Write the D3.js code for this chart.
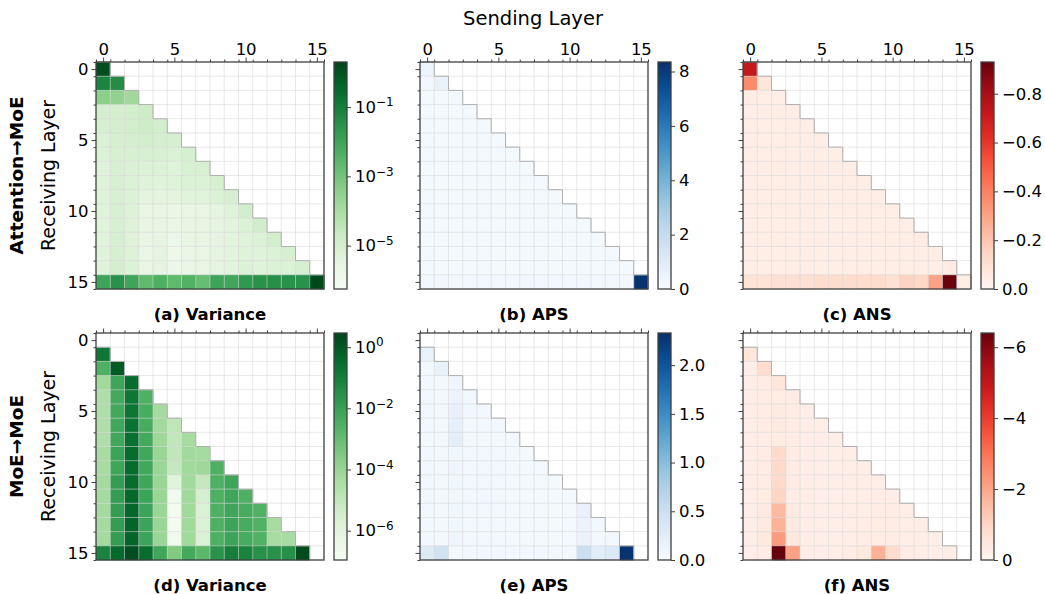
<!DOCTYPE html>
<html>
<head>
<meta charset="utf-8">
<script src="https://cdn.jsdelivr.net/npm/d3@7"></script>
<style>
  body { margin: 0; background: #fff; }
  text { font-family: "DejaVu Sans", sans-serif; fill: #000; }
</style>
</head>
<body>
<svg id="chart" width="1045" height="594"></svg>
<script>
// layer indices (rows = receiving layer, columns = sending layer)
var layers = [0, 1, 2, 3, 4, 5, 6, 7, 8, 9, 10, 11, 12, 13, 14, 15];
var majorTicks = [0, 5, 10, 15];

// Attention -> MoE, variance (log colour scale)
var varAttn = [
  [1.3],
  [0.07, 0.045],
  [4e-4, 3e-4, 1.5e-4],
  [1e-5, 1e-5, 1.1e-5, 1.4e-5],
  [9e-6, 1e-5, 1.1e-5, 1.4e-5, 1.1e-5],
  [7e-6, 9e-6, 1e-5, 1.1e-5, 1e-5, 9e-6],
  [6e-6, 8e-6, 8e-6, 8e-6, 8e-6, 7e-6, 9e-6],
  [5e-6, 8e-6, 7e-6, 6e-6, 6e-6, 5e-6, 8e-6, 8e-6],
  [5e-6, 8e-6, 6e-6, 5e-6, 5e-6, 5e-6, 6e-6, 6e-6, 9e-6],
  [5e-6, 8e-6, 6e-6, 3.5e-6, 3.5e-6, 3.5e-6, 4.5e-6, 4.5e-6, 6e-6, 9e-6],
  [4.5e-6, 8e-6, 5.5e-6, 2.5e-6, 2.5e-6, 2e-6, 2.5e-6, 2.5e-6, 3e-6, 5e-6, 1.1e-5],
  [4.5e-6, 8e-6, 5.5e-6, 2.5e-6, 2.5e-6, 2e-6, 2.5e-6, 2.5e-6, 3e-6, 4e-6, 6e-6, 1.2e-5],
  [4.5e-6, 9e-6, 5.5e-6, 2.5e-6, 3e-6, 1.8e-6, 2.5e-6, 2.5e-6, 3e-6, 4e-6, 5e-6, 6e-6, 1.1e-5],
  [4.5e-6, 9e-6, 5.5e-6, 2e-6, 3e-6, 1.6e-6, 2e-6, 2.5e-6, 3e-6, 4e-6, 5e-6, 5e-6, 6e-6, 9e-6],
  [4.5e-6, 1e-5, 6e-6, 2.5e-6, 3e-6, 1.8e-6, 2e-6, 2.5e-6, 3e-6, 4e-6, 6e-6, 5e-6, 6e-6, 6e-6, 9e-6],
  [0.01, 0.03, 0.01, 2.2e-3, 5e-3, 2.2e-3, 4e-3, 1.7e-3, 0.01, 9e-3, 0.02, 0.03, 0.035, 0.03, 0.03, 1.6]
];

// Attention -> MoE, APS
var apsAttn = [
  [0.45],
  [0.2, 0.6],
  [0.15, 0.15, 0.18],
  [0.13, 0.13, 0.13, 0.13],
  [0.13, 0.13, 0.13, 0.13, 0.13],
  [0.13, 0.13, 0.13, 0.13, 0.13, 0.13],
  [0.13, 0.13, 0.13, 0.13, 0.13, 0.13, 0.13],
  [0.13, 0.13, 0.13, 0.13, 0.13, 0.13, 0.13, 0.13],
  [0.13, 0.13, 0.13, 0.13, 0.13, 0.13, 0.13, 0.13, 0.13],
  [0.13, 0.13, 0.13, 0.13, 0.13, 0.13, 0.13, 0.13, 0.13, 0.13],
  [0.13, 0.13, 0.13, 0.13, 0.13, 0.13, 0.13, 0.13, 0.13, 0.13, 0.13],
  [0.13, 0.13, 0.13, 0.13, 0.13, 0.13, 0.13, 0.13, 0.13, 0.13, 0.13, 0.13],
  [0.13, 0.13, 0.13, 0.13, 0.13, 0.13, 0.13, 0.13, 0.13, 0.13, 0.13, 0.13, 0.13],
  [0.13, 0.13, 0.13, 0.13, 0.13, 0.13, 0.13, 0.13, 0.13, 0.13, 0.13, 0.13, 0.13, 0.13],
  [0.13, 0.13, 0.13, 0.13, 0.13, 0.13, 0.13, 0.13, 0.13, 0.13, 0.13, 0.13, 0.13, 0.13, 0.13],
  [0.2, 0.25, 0.18, 0.18, 0.18, 0.18, 0.18, 0.18, 0.18, 0.18, 0.18, 0.18, 0.18, 0.18, 0.2, 8.3]
];

// Attention -> MoE, ANS
var ansAttn = [
  [-0.72],
  [-0.37, -0.08],
  [-0.05, -0.04, -0.04],
  [-0.04, -0.04, -0.04, -0.04],
  [-0.04, -0.04, -0.04, -0.04, -0.04],
  [-0.04, -0.04, -0.04, -0.04, -0.04, -0.04],
  [-0.04, -0.04, -0.04, -0.04, -0.04, -0.04, -0.04],
  [-0.04, -0.04, -0.04, -0.04, -0.04, -0.04, -0.04, -0.04],
  [-0.04, -0.04, -0.04, -0.04, -0.04, -0.04, -0.04, -0.04, -0.04],
  [-0.04, -0.04, -0.04, -0.04, -0.04, -0.04, -0.04, -0.04, -0.04, -0.04],
  [-0.04, -0.04, -0.04, -0.04, -0.04, -0.04, -0.04, -0.04, -0.04, -0.04, -0.04],
  [-0.04, -0.04, -0.04, -0.04, -0.04, -0.04, -0.04, -0.04, -0.04, -0.04, -0.04, -0.04],
  [-0.04, -0.04, -0.04, -0.04, -0.04, -0.04, -0.04, -0.04, -0.04, -0.04, -0.04, -0.04, -0.05],
  [-0.04, -0.04, -0.04, -0.04, -0.04, -0.04, -0.04, -0.04, -0.04, -0.04, -0.04, -0.04, -0.04, -0.05],
  [-0.04, -0.04, -0.04, -0.04, -0.04, -0.04, -0.04, -0.04, -0.04, -0.04, -0.04, -0.04, -0.04, -0.04, -0.05],
  [-0.09, -0.09, -0.1, -0.1, -0.1, -0.12, -0.12, -0.12, -0.12, -0.12, -0.1, -0.15, -0.14, -0.3, -0.92, -0.04]
];

// MoE -> MoE, variance (log colour scale)
var varMoe = [
  [],
  [0.16],
  [3e-3, 0.87],
  [6e-5, 7e-3, 0.3],
  [3e-5, 5e-3, 0.16, 3e-3],
  [3e-5, 5.5e-3, 0.19, 4e-3, 5e-5],
  [3e-5, 6e-3, 0.22, 4e-3, 6e-5, 1.2e-5],
  [3e-5, 6e-3, 0.26, 5e-3, 7e-5, 1.1e-5, 4.5e-5],
  [4.4e-5, 8e-3, 0.3, 6e-3, 9e-5, 1.1e-5, 6e-5, 5e-5],
  [4.4e-5, 7e-3, 0.32, 6e-3, 9e-5, 8e-6, 6e-5, 7e-5, 3e-3],
  [5e-5, 0.012, 0.35, 7e-3, 9e-5, 1.2e-6, 6e-5, 8e-6, 3e-3, 7e-3],
  [5e-5, 0.012, 0.4, 7.5e-3, 9e-5, 2.2e-7, 6e-5, 2.4e-6, 3e-3, 7e-3, 3e-3],
  [5e-5, 0.012, 0.45, 7.5e-3, 9e-5, 1.6e-7, 6e-5, 1.8e-6, 3e-3, 7e-3, 4.4e-3, 2.6e-3],
  [5e-5, 0.012, 0.5, 7.5e-3, 9e-5, 1.6e-7, 6e-5, 1.8e-6, 3e-3, 7.5e-3, 4.4e-3, 2.6e-3, 4.4e-5],
  [5e-5, 0.012, 0.5, 7.5e-3, 9e-5, 2.2e-7, 6e-5, 1.8e-6, 3e-3, 7.5e-3, 4.4e-3, 2.6e-3, 4.4e-5, 4.4e-5],
  [0.068, 0.37, 1.7, 0.3, 7e-3, 2.9e-4, 5e-3, 1.6e-3, 0.024, 0.095, 0.068, 0.029, 0.029, 0.029, 2.0]
];

// MoE -> MoE, APS
var apsMoe = [
  [],
  [0.15],
  [0.06, 0.16],
  [0.05, 0.06, 0.1],
  [0.05, 0.06, 0.14, 0.06],
  [0.05, 0.06, 0.18, 0.08, 0.05],
  [0.05, 0.06, 0.2, 0.06, 0.05, 0.05],
  [0.05, 0.06, 0.23, 0.06, 0.05, 0.05, 0.05],
  [0.05, 0.06, 0.08, 0.06, 0.05, 0.05, 0.05, 0.04],
  [0.05, 0.06, 0.1, 0.06, 0.05, 0.05, 0.05, 0.04, 0.04],
  [0.05, 0.06, 0.08, 0.05, 0.05, 0.05, 0.04, 0.04, 0.04, 0.04],
  [0.05, 0.06, 0.08, 0.05, 0.05, 0.05, 0.04, 0.04, 0.04, 0.04, 0.04],
  [0.05, 0.06, 0.08, 0.05, 0.05, 0.05, 0.04, 0.04, 0.04, 0.04, 0.04, 0.16],
  [0.05, 0.06, 0.08, 0.05, 0.05, 0.05, 0.04, 0.04, 0.04, 0.04, 0.04, 0.13, 0.06],
  [0.05, 0.06, 0.1, 0.05, 0.05, 0.05, 0.04, 0.04, 0.04, 0.04, 0.04, 0.14, 0.06, 0.06],
  [0.3, 0.45, 0.05, 0.05, 0.05, 0.05, 0.05, 0.05, 0.07, 0.06, 0.06, 0.5, 0.25, 0.32, 2.3]
];

// MoE -> MoE, ANS
var ansMoe = [
  [],
  [-0.55],
  [-0.25, -0.8],
  [-0.25, -0.3, -0.55],
  [-0.25, -0.3, -0.35, -0.3],
  [-0.25, -0.3, -0.4, -0.3, -0.25],
  [-0.25, -0.3, -0.4, -0.3, -0.25, -0.25],
  [-0.25, -0.3, -0.35, -0.3, -0.25, -0.25, -0.25],
  [-0.25, -0.3, -0.85, -0.3, -0.25, -0.25, -0.25, -0.25],
  [-0.25, -0.3, -0.85, -0.3, -0.25, -0.25, -0.25, -0.25, -0.25],
  [-0.25, -0.3, -0.85, -0.3, -0.25, -0.25, -0.25, -0.25, -0.25, -0.25],
  [-0.25, -0.35, -1.0, -0.3, -0.25, -0.25, -0.25, -0.25, -0.25, -0.3, -0.25],
  [-0.25, -0.4, -1.6, -0.4, -0.25, -0.25, -0.25, -0.25, -0.25, -0.3, -0.3, -0.25],
  [-0.25, -0.4, -1.75, -0.4, -0.25, -0.25, -0.25, -0.25, -0.3, -0.35, -0.3, -0.25, -0.25],
  [-0.25, -0.45, -2.2, -0.45, -0.25, -0.25, -0.25, -0.25, -0.3, -0.35, -0.3, -0.25, -0.25, -0.25],
  [-0.25, -0.3, -6.4, -2.1, -0.25, -0.25, -0.25, -0.3, -0.45, -1.8, -0.8, -0.3, -0.25, -0.25, -0.3]
];

var panelTitles = ["(a) Variance", "(b) APS", "(c) ANS", "(d) Variance", "(e) APS", "(f) ANS"];
var rowLabels = ["Attention\u2192MoE", "MoE\u2192MoE"];
var cbarLimits = [[5.6e-7, 2.0], [0, 8.35], [0, -0.93], [1.1e-7, 2.9], [0, 2.33], [0, -6.4]];
var cbarTicks = [[1e-1, 1e-3, 1e-5], [0, 2, 4, 6, 8], [0, -0.2, -0.4, -0.6, -0.8],
                 [1, 1e-2, 1e-4, 1e-6], [0, 0.5, 1, 1.5, 2], [0, -2, -4, -6]];

var svg = d3.select("#chart");
var colX = [96, 420, 743], rowY = [62, 333];
var pw = 228, ph = 227;
var spine = "#404040";

var panels = [
  { data: varAttn, row: 0, col: 0, log: true, interp: d3.interpolateGreens, fmt: null, strict: 0 },
  { data: apsAttn, row: 0, col: 1, log: false, interp: d3.interpolateBlues, fmt: d3.format("d"), strict: 0 },
  { data: ansAttn, row: 0, col: 2, log: false, interp: d3.interpolateReds, fmt: d3.format(".1f"), strict: 0 },
  { data: varMoe, row: 1, col: 0, log: true, interp: d3.interpolateGreens, fmt: null, strict: 1 },
  { data: apsMoe, row: 1, col: 1, log: false, interp: d3.interpolateBlues, fmt: d3.format(".1f"), strict: 1 },
  { data: ansMoe, row: 1, col: 2, log: false, interp: d3.interpolateReds, fmt: d3.format("d"), strict: 1 }
];

var defs = svg.append("defs");

panels.forEach(function (p, k) {
  var x0 = colX[p.col], y0 = rowY[p.row];
  var x = d3.scaleLinear().domain([-0.5, 15.5]).range([x0, x0 + pw]);
  var y = d3.scaleLinear().domain([-0.5, 15.5]).range([y0, y0 + ph]);
  var lim = cbarLimits[k];
  var color = p.log ? d3.scaleSequentialLog(p.interp).domain(lim)
                    : d3.scaleSequential(p.interp).domain(lim);
  var g = svg.append("g");

  var cells = [];
  p.data.forEach(function (row, i) {
    row.forEach(function (v, j) { cells.push({ i: i, j: j, v: v }); });
  });
  g.selectAll("rect.cell").data(cells).join("rect")
    .attr("class", "cell")
    .attr("x", function (d) { return x(d.j - 0.5); })
    .attr("y", function (d) { return y(d.i - 0.5); })
    .attr("width", x(1) - x(0) + 0.3)
    .attr("height", y(1) - y(0) + 0.3)
    .attr("fill", function (d) { return color(d.v); });

  // grid at cell boundaries
  var inner = d3.range(0.5, 15, 1);
  g.selectAll("line.gx").data(inner).join("line")
    .attr("x1", function (d) { return x(d); }).attr("x2", function (d) { return x(d); })
    .attr("y1", y0).attr("y2", y0 + ph)
    .attr("stroke", "#d6d6d6").attr("stroke-opacity", 0.6).attr("stroke-width", 0.9);
  g.selectAll("line.gy").data(inner).join("line")
    .attr("y1", function (d) { return y(d); }).attr("y2", function (d) { return y(d); })
    .attr("x1", x0).attr("x2", x0 + pw)
    .attr("stroke", "#d6d6d6").attr("stroke-opacity", 0.6).attr("stroke-width", 0.9);

  // staircase outline of the triangle
  var off = p.strict;
  var pts = [[x(-0.5), y(off - 0.5)]];
  for (var s = 0; s <= 15 - off; s++) {
    pts.push([x(s + 0.5), y(s + off - 0.5)]);
    pts.push([x(s + 0.5), y(s + off + 0.5)]);
  }
  g.append("path").attr("d", d3.line()(pts))
    .attr("fill", "none").attr("stroke", "#b0b0b0").attr("stroke-width", 1);

  // axes
  var minor = d3.range(-0.5, 16, 1);
  var topAx = g.append("g").attr("transform", "translate(0," + y0 + ")");
  topAx.call(d3.axisTop(x).tickValues(minor).tickSize(2.5).tickFormat(""));
  topAx.append("g").call(d3.axisTop(x).tickValues(majorTicks).tickSize(4.5).tickPadding(3)
    .tickFormat(p.row === 0 ? d3.format("d") : ""));
  var leftAx = g.append("g").attr("transform", "translate(" + x0 + ",0)");
  leftAx.call(d3.axisLeft(y).tickValues(minor).tickSize(2.5).tickFormat(""));
  leftAx.append("g").call(d3.axisLeft(y).tickValues(majorTicks).tickSize(4.5).tickPadding(3)
    .tickFormat(p.col === 0 ? d3.format("d") : ""));
  g.selectAll(".domain").remove();
  g.selectAll(".tick line").attr("stroke", spine).attr("stroke-width", 1);
  g.selectAll(".tick text").attr("font-size", 16.5).attr("font-family", "DejaVu Sans").attr("fill", "#000");

  g.append("rect").attr("x", x0).attr("y", y0).attr("width", pw).attr("height", ph)
    .attr("fill", "none").attr("stroke", spine).attr("stroke-width", 1.3);

  // panel title
  svg.append("text").attr("x", x0 + pw / 2).attr("y", y0 + ph + 31)
    .attr("text-anchor", "middle").attr("font-size", 16.5).attr("font-weight", "bold")
    .text(panelTitles[k]);

  // colour bar
  var cx = x0 + pw + 10, cw = 13;
  var gid = "grad" + k;
  var grad = defs.append("linearGradient").attr("id", gid)
    .attr("x1", 0).attr("y1", 1).attr("x2", 0).attr("y2", 0);
  d3.range(0, 1.0001, 0.05).forEach(function (t) {
    grad.append("stop").attr("offset", t).attr("stop-color", p.interp(t));
  });
  svg.append("rect").attr("x", cx).attr("y", y0).attr("width", cw).attr("height", ph)
    .attr("fill", "url(#" + gid + ")").attr("stroke", spine).attr("stroke-width", 1.3);
  var cs = (p.log ? d3.scaleLog() : d3.scaleLinear()).domain(lim).range([y0 + ph, y0]);
  var cax = svg.append("g").attr("transform", "translate(" + (cx + cw) + ",0)")
    .call(d3.axisRight(cs).tickValues(cbarTicks[k]).tickSize(4).tickPadding(4)
      .tickFormat(p.log ? "" : p.fmt));
  cax.select(".domain").remove();
  cax.selectAll(".tick line").attr("stroke", spine).attr("stroke-width", 1);
  cax.selectAll(".tick text").attr("font-size", 16.5).attr("font-family", "DejaVu Sans").attr("fill", "#000");
  if (p.log) {
    cax.selectAll(".tick").each(function (v) {
      var t = d3.select(this).append("text").attr("x", 8).attr("dy", "0.32em")
        .attr("font-size", 16.5).attr("fill", "#000").attr("text-anchor", "start");
      t.append("tspan").text("10");
      var e = Math.round(Math.log10(v));
      t.append("tspan").attr("dy", "-0.55em").attr("font-size", 12)
        .text(e < 0 ? "\u2212" + (-e) : String(e));
    });
  }
});

// overall labels
svg.append("text").attr("x", 533).attr("y", 25).attr("text-anchor", "middle")
  .attr("font-size", 19.5).text("Sending Layer");

rowY.forEach(function (y0, r) {
  var cy = y0 + ph / 2;
  svg.append("text").attr("transform", "translate(17," + cy + ") rotate(-90)")
    .attr("text-anchor", "middle").attr("dy", "0.35em")
    .attr("font-size", 18.5).attr("font-weight", "bold").text(rowLabels[r]);
  svg.append("text").attr("transform", "translate(48," + cy + ") rotate(-90)")
    .attr("text-anchor", "middle").attr("dy", "0.35em")
    .attr("font-size", 19).text("Receiving Layer");
});
</script>
</body>
</html>
